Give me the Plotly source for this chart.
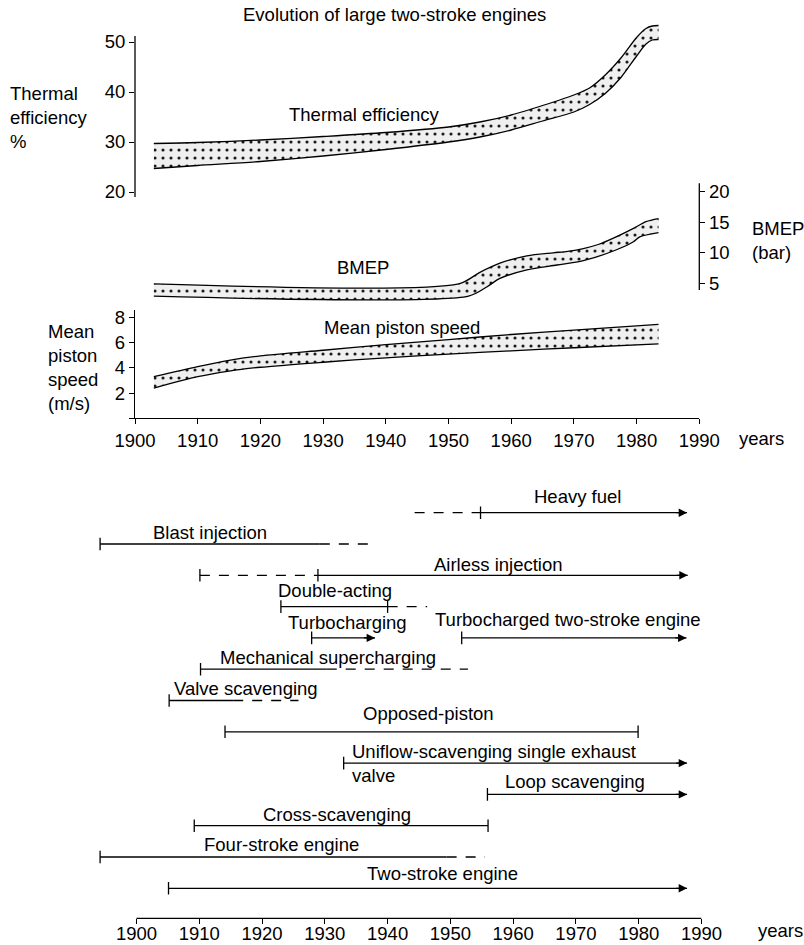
import plotly.graph_objects as go

W, H = 804, 945
FONT = "Liberation Sans, Arial, sans-serif"
FS = 18.5


def fx(p):
    return p / W


def fy(p):
    return 1 - p / H


# ---------------- data: upper panels ----------------
th_up_years = [1903, 1910, 1920, 1930, 1940, 1950, 1955, 1960, 1965, 1970, 1972.5, 1975, 1977.5, 1980, 1981.5, 1982.5, 1983.5]
th_up = [29.7, 29.9, 30.4, 31.1, 31.9, 33.0, 34.0, 35.4, 37.3, 39.4, 40.8, 43.4, 46.8, 50.9, 52.7, 53.2, 53.3]
th_lo_years = [1903, 1910, 1920, 1930, 1940, 1950, 1955, 1960, 1965, 1970, 1972.5, 1975, 1977.5, 1980, 1981.5, 1982.5, 1983.5]
th_lo = [24.7, 25.3, 26.1, 27.2, 28.5, 30.0, 31.0, 32.4, 34.2, 36.0, 37.5, 39.7, 42.9, 47.2, 49.6, 50.4, 50.5]

bm_up_years = [1903, 1951.6, 1955, 1958.2, 1962.5, 1966.7, 1969, 1971.5, 1974, 1976.3, 1979.5, 1981.5, 1983.5]
bm_up = [4.9, 4.9, 6.8, 8.3, 9.5, 10.0, 10.25, 10.7, 11.4, 12.4, 14.0, 15.1, 15.6]
bm_lo_years = [1903, 1953.2, 1956.1, 1958.2, 1962.5, 1967.3, 1971.5, 1976.8, 1979.5, 1980.5, 1983.5]
bm_lo = [2.9, 2.9, 4.4, 5.8, 7.2, 8.0, 8.7, 10.5, 11.8, 12.6, 13.3]

ps_years = [1903, 1910, 1915, 1920, 1930, 1940, 1950, 1960, 1970, 1983.5]
ps_up = [3.3, 4.1, 4.6, 4.95, 5.4, 5.85, 6.25, 6.65, 7.0, 7.45]
ps_lo = [2.4, 3.3, 3.75, 4.05, 4.45, 4.8, 5.1, 5.35, 5.6, 5.9]

year_ticks = [1900, 1910, 1920, 1930, 1940, 1950, 1960, 1970, 1980, 1990]
th_ticks = [20, 30, 40, 50]
bm_ticks = [5, 10, 15, 20]
ps_ticks = [0, 2, 4, 6, 8]
ps_ticktext = ["", "2", "4", "6", "8"]

# ---------------- data: timeline ----------------
tl_labels = ["Heavy fuel", "Blast injection", "Airless injection", "Double-acting",
             "Turbocharging", "Turbocharged two-stroke engine", "Mechanical supercharging",
             "Valve scavenging", "Opposed-piston", "Uniflow-scavenging single exhaust<br>valve",
             "Loop scavenging", "Cross-scavenging", "Four-stroke engine", "Two-stroke engine"]
tl_rows = [0, 1, 2, 3, 4, 4, 5, 6, 7, 8, 9, 10, 11, 12]
tl_solid_start = [1954.8, 1894.2, 1928.9, 1923.0, 1927.9, 1951.8, 1910.2, 1905.2, 1914.1, 1933.0, 1955.9, 1909.2, 1894.2, 1905.1]
tl_solid_end = [1987.7, 1929.2, 1987.8, 1940.0, 1938.0, 1987.6, 1930.3, 1915.4, 1979.9, 1987.7, 1987.7, 1956.0, 1949.4, 1987.7]
tl_dash_before = [1944.3, None, 1910.1, None, None, None, None, None, None, None, None, None, None, None]
tl_dash_after = [None, 1938.2, None, 1946.3, None, None, 1952.8, 1925.8, None, None, None, None, 1955.5, None]
tl_arrow = [True, False, True, False, True, True, False, False, False, True, True, False, False, True]
tl_ticks = [[1954.8], [1894.2], [1910.1, 1928.9], [1923.0, 1940.0], [1927.9], [1951.8],
            [1910.2], [1905.2], [1914.1, 1979.9], [1933.0], [1955.9], [1909.2, 1956.0],
            [1894.2], [1905.1]]
tl_label_x = [1970.3, 1911.7, 1957.6, 1931.6, 1933.6, 1968.7, 1930.5, 1917.4, 1946.5, 1934.0, 1969.8, 1932.0, 1923.1, 1948.8]

# layout-only helpers for labels (pixel offsets above the line, alignment)
tl_label_shift = [16, 12, 11, 16, 15, 18, 12, 12, 18, 0, 13, 11, 13, 15]
tl_label_anchor = ["center"] * 9 + ["left"] + ["center"] * 4

# ---------------- geometry (pixels) ----------------
X_TOP_L, X_TOP_R = 135.0, 699.3
X_BOT_1900, X_BOT_1990 = 136.5, 701.5
px_per_year_bot = (X_BOT_1990 - X_BOT_1900) / 90.0
X_BOT_L = X_BOT_1900 - 10 * px_per_year_bot  # range starts at 1890

th_dom = (18, 197)
th_range = [20 + (192 - th_dom[1]) / 5, 20 + (192 - th_dom[0]) / 5]
bm_dom = (175, 302)
bm_range = [5 - (bm_dom[1] - 283.3) / 6.1, 5 - (bm_dom[0] - 283.3) / 6.1]
ps_dom = (310, 418.3)
ps_range = [0, (ps_dom[1] - ps_dom[0]) / 12.6]
tl_dom = (470, 918.3)
tl_range = [(tl_dom[1] - 512.7) / 31.3, (tl_dom[0] - 512.7) / 31.3]

LINE = dict(color="black", width=1.3)
PATTERN = dict(shape=".", fgcolor="#1a1a1a", bgcolor="#efefef", size=8, solidity=0.12)

fig = go.Figure()


def band(xl, yl, xu, yu, yaxis):
    fig.add_trace(go.Scatter(x=xl, y=yl, mode="lines", line=dict(LINE, shape="spline", smoothing=0.8),
                             xaxis="x", yaxis=yaxis, hoverinfo="skip"))
    fig.add_trace(go.Scatter(x=xu, y=yu, mode="lines", line=dict(LINE, shape="spline", smoothing=0.8),
                             fill="tonexty", fillpattern=PATTERN, fillcolor="#efefef",
                             xaxis="x", yaxis=yaxis, hoverinfo="skip"))


band(th_lo_years, th_lo, th_up_years, th_up, "y")
band(bm_lo_years, bm_lo, bm_up_years, bm_up, "y2")
band(ps_years, ps_lo, ps_years, ps_up, "y3")

annotations = []
for i, lab in enumerate(tl_labels):
    r = tl_rows[i]
    fig.add_trace(go.Scatter(x=[tl_solid_start[i], tl_solid_end[i]], y=[r, r], mode="lines",
                             line=LINE, xaxis="x2", yaxis="y4", hoverinfo="skip"))
    if tl_dash_before[i] is not None:
        fig.add_trace(go.Scatter(x=[tl_dash_before[i], tl_solid_start[i]], y=[r, r], mode="lines",
                                 line=dict(LINE, dash="10px,9px"), xaxis="x2", yaxis="y4", hoverinfo="skip"))
    if tl_dash_after[i] is not None:
        fig.add_trace(go.Scatter(x=[tl_solid_end[i], tl_dash_after[i]], y=[r, r], mode="lines",
                                 line=dict(LINE, dash="10px,9px"), xaxis="x2", yaxis="y4", hoverinfo="skip"))
    fig.add_trace(go.Scatter(x=tl_ticks[i], y=[r] * len(tl_ticks[i]), mode="markers",
                             marker=dict(symbol="line-ns", size=9, line=dict(color="black", width=1.3)),
                             xaxis="x2", yaxis="y4", hoverinfo="skip"))
    if tl_arrow[i]:
        annotations.append(dict(x=tl_solid_end[i], y=r, xref="x2", yref="y4",
                                ax=tl_solid_end[i] - 2, ay=r, axref="x2", ayref="y4",
                                text="", showarrow=True, arrowhead=2, arrowsize=1.4,
                                arrowwidth=1.2, arrowcolor="black"))
    annotations.append(dict(x=tl_label_x[i], y=r, xref="x2", yref="y4", text=lab,
                            showarrow=False, xanchor=tl_label_anchor[i], yanchor="middle",
                            align="left", yshift=tl_label_shift[i],
                            font=dict(family=FONT, size=FS, color="black")))


def txt(t, xp, yp, xanchor="center", align="center"):
    annotations.append(dict(x=fx(xp), y=fy(yp), xref="paper", yref="paper", text=t,
                            showarrow=False, xanchor=xanchor, yanchor="middle", align=align,
                            font=dict(family=FONT, size=FS, color="black")))


txt("Evolution of large two-stroke engines", 394, 15)
txt("Thermal<br>efficiency<br>%", 8, 117, "left", "left")
txt("Mean<br>piston<br>speed<br>(m/s)", 46, 367, "left", "left")
txt("BMEP<br>(bar)", 750, 240, "left", "left")
txt("Thermal efficiency", 364, 114)
txt("BMEP", 363, 267)
txt("Mean piston speed", 402, 327)
txt("years", 737, 438, "left")
txt("years", 756, 930, "left")

shapes = [
    dict(type="line", xref="paper", yref="y", x0=fx(X_TOP_L), x1=fx(X_TOP_L), y0=th_range[0], y1=51.2,
         line=dict(color="black", width=1.3)),
    dict(type="line", xref="paper", yref="y2", x0=fx(X_TOP_R), x1=fx(X_TOP_R), y0=3.9, y1=21.4,
         line=dict(color="black", width=1.3)),
    dict(type="line", xref="x2", yref="y4 domain", x0=1900, x1=1990, y0=0, y1=0,
         line=dict(color="black", width=1.3)),
]

tickfont = dict(family=FONT, size=FS, color="black")
common_y = dict(showgrid=False, zeroline=False, ticks="outside", ticklen=5, tickwidth=1.3,
                tickcolor="black", tickfont=tickfont, fixedrange=True, automargin=False)

fig.update_layout(
    template="none",
    width=W, height=H, margin=dict(l=0, r=0, t=0, b=0, pad=0, autoexpand=False),
    paper_bgcolor="white", plot_bgcolor="white", showlegend=False,
    xaxis=dict(domain=[fx(X_TOP_L), fx(X_TOP_R)], range=[1900, 1990], anchor="y3",
               tickvals=year_ticks, ticks="outside", ticklen=5, tickwidth=1.3, tickcolor="black",
               showline=True, linecolor="black", linewidth=1.3, showgrid=False, zeroline=False,
               tickfont=tickfont, automargin=False),
    yaxis=dict(common_y, domain=[fy(th_dom[1]), fy(th_dom[0])], range=th_range, anchor="x",
               tickvals=th_ticks, showline=False),
    yaxis2=dict(common_y, domain=[fy(bm_dom[1]), fy(bm_dom[0])], range=bm_range, anchor="x",
                side="right", tickvals=bm_ticks, showline=False),
    yaxis3=dict(common_y, domain=[fy(ps_dom[1]), fy(ps_dom[0])], range=ps_range, anchor="x",
                tickvals=ps_ticks, ticktext=ps_ticktext, showline=True, linecolor="black", linewidth=1.3),
    xaxis2=dict(domain=[fx(X_BOT_L), fx(X_BOT_1990)], range=[1890, 1990], anchor="y4",
                tickvals=year_ticks, ticks="outside", ticklen=5, tickwidth=1.3, tickcolor="black",
                showline=False, showgrid=False, zeroline=False, tickfont=tickfont, automargin=False,
                ticklabelstandoff=-7),
    yaxis4=dict(domain=[fy(tl_dom[1]), fy(tl_dom[0])], range=tl_range, anchor="x2", visible=False,
                showgrid=False, zeroline=False, automargin=False),
    annotations=annotations,
    shapes=shapes,
)

fig.write_html("out.html")
